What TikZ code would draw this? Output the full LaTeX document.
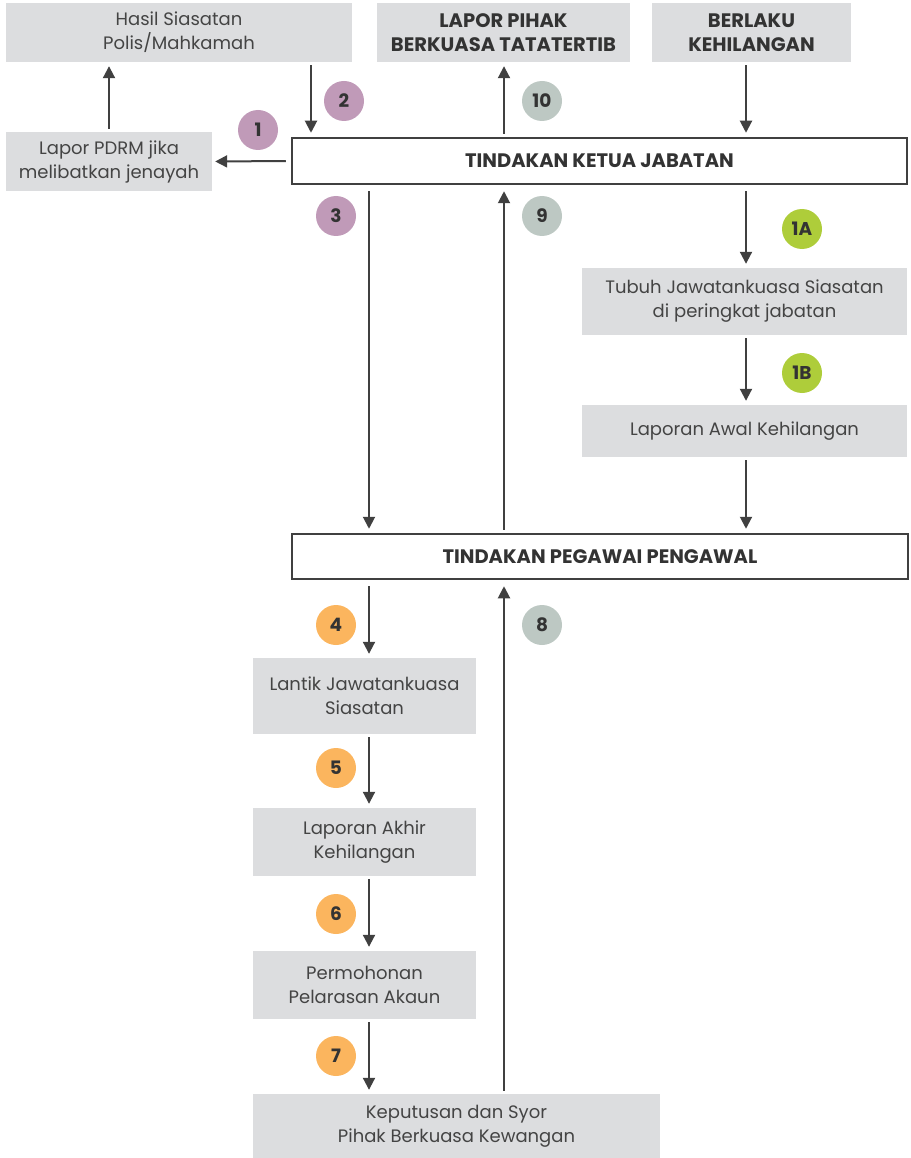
\documentclass[tikz,border=0pt]{standalone}
\usepackage{fontspec}
\setmainfont{Poppins}
\usetikzlibrary{arrows.meta}
\definecolor{boxgray}{HTML}{DCDDDF}
\definecolor{ink}{HTML}{444444}
\definecolor{linegray}{HTML}{404040}
\definecolor{badgepurple}{HTML}{C09AB8}
\definecolor{badgegray}{HTML}{BDC8C3}
\definecolor{badgegreen}{HTML}{AECD3A}
\definecolor{badgeorange}{HTML}{FBB55E}
\tikzset{
  graybox/.style={fill=boxgray, inner sep=0pt, align=center, text=ink,
    font=\fontsize{18}{24}\selectfont},
  headbox/.style={graybox, font=\fontsize{19.5}{24}\selectfont\bfseries, text=black!80},
  actionbox/.style={draw=linegray, line width=2.5pt, fill=white, inner sep=0pt,
    text=black!80, font=\fontsize{19.5}{20}\selectfont\bfseries},
  badge/.style={circle, minimum size=40pt, inner sep=0pt, text=black!80,
    font=\fontsize{18.5}{18}\selectfont\bfseries},
  flow/.style={draw=linegray, line width=2pt,
    -{Triangle[length=12pt,width=12pt]}, shorten >=4pt, shorten <=3pt}
}
\begin{document}
\begin{tikzpicture}[x=1pt,y=-1pt]
\useasboundingbox (0,0) rectangle (910,1158);

% top row
\node[graybox, minimum width=346pt, minimum height=59pt] (hasil) at (179,32.5) {Hasil Siasatan\\Polis/Mahkamah};
\node[headbox, minimum width=253pt, minimum height=59pt] (pihak) at (503.5,32.5) {LAPOR PIHAK\\BERKUASA TATATERTIB};
\node[headbox, minimum width=199pt, minimum height=59pt] (berlaku) at (751.5,32.5) {BERLAKU\\KEHILANGAN};
\node[graybox, minimum width=206pt, minimum height=59pt] (pdrm) at (109,161.5) {Lapor PDRM jika\\melibatkan jenayah};

% action boxes
\node[actionbox, minimum width=615pt, minimum height=46pt] (ketua) at (599.5,161) {TINDAKAN KETUA JABATAN};
\node[actionbox, minimum width=616pt, minimum height=45pt] (pegawai) at (600,556.5) {TINDAKAN PEGAWAI PENGAWAL};

% right branch
\node[graybox, minimum width=325pt, minimum height=67pt] (tubuh) at (744.5,301.5) {Tubuh Jawatankuasa Siasatan\\di peringkat jabatan};
\node[graybox, minimum width=325pt, minimum height=52pt] (awal) at (744.5,431) {Laporan Awal Kehilangan};

% lower chain
\node[graybox, minimum width=223pt, minimum height=76pt] (lantik) at (364.5,696) {Lantik Jawatankuasa\\Siasatan};
\node[graybox, minimum width=223pt, minimum height=68pt] (akhir) at (364.5,842) {Laporan Akhir\\Kehilangan};
\node[graybox, minimum width=223pt, minimum height=68pt] (permo) at (364.5,985) {Permohonan\\Pelarasan Akaun};
\node[graybox, minimum width=407pt, minimum height=64pt] (kepu) at (456.5,1126) {Keputusan dan Syor\\Pihak Berkuasa Kewangan};

% connector columns
\coordinate (cA) at (109,0);
\coordinate (cB) at (311,0);
\coordinate (cC) at (369,0);
\coordinate (cD) at (504,0);
\coordinate (cE) at (746,0);

% connectors
\draw[flow] (pdrm.north -| cA) -- (hasil.south -| cA);
\draw[flow] (hasil.south -| cB) -- (ketua.north -| cB);
\draw[flow, shorten <=5pt, shorten >=3pt] (ketua.west) -- (pdrm.east);
\draw[flow] (ketua.north -| cD) -- (pihak.south -| cD);
\draw[flow] (berlaku.south -| cE) -- (ketua.north -| cE);
\draw[flow, shorten <=6pt] (ketua.south -| cC) -- (pegawai.north -| cC);
\draw[flow, shorten >=6pt] (pegawai.north -| cD) -- (ketua.south -| cD);
\draw[flow, shorten <=6pt] (ketua.south -| cE) -- (tubuh.north -| cE);
\draw[flow] (tubuh.south -| cE) -- (awal.north -| cE);
\draw[flow] (awal.south -| cE) -- (pegawai.north -| cE);
\draw[flow, shorten <=6pt] (pegawai.south -| cC) -- (lantik.north -| cC);
\draw[flow] (lantik.south -| cC) -- (akhir.north -| cC);
\draw[flow] (akhir.south -| cC) -- (permo.north -| cC);
\draw[flow] (permo.south -| cC) -- (kepu.north -| cC);
\draw[flow, shorten >=6pt] (kepu.north -| cD) -- (pegawai.south -| cD);

% step badges
\node[badge, fill=badgepurple] (b1) at (258,130) {1};
\node[badge, fill=badgepurple] (b2) at (344,101) {2};
\node[badge, fill=badgepurple] (b3) at (336,216) {3};
\node[badge, fill=badgegray] (b10) at (542,101) {10};
\node[badge, fill=badgegray] (b9) at (542,216) {9};
\node[badge, fill=badgegray] (b8) at (542,625) {8};
\node[badge, fill=badgegreen] (b1a) at (802,229) {1A};
\node[badge, fill=badgegreen] (b1b) at (802,373) {1B};
\node[badge, fill=badgeorange] (b4) at (336,625) {4};
\node[badge, fill=badgeorange] (b5) at (336,768) {5};
\node[badge, fill=badgeorange] (b6) at (336,914) {6};
\node[badge, fill=badgeorange] (b7) at (336,1056) {7};
\end{tikzpicture}
\end{document}
